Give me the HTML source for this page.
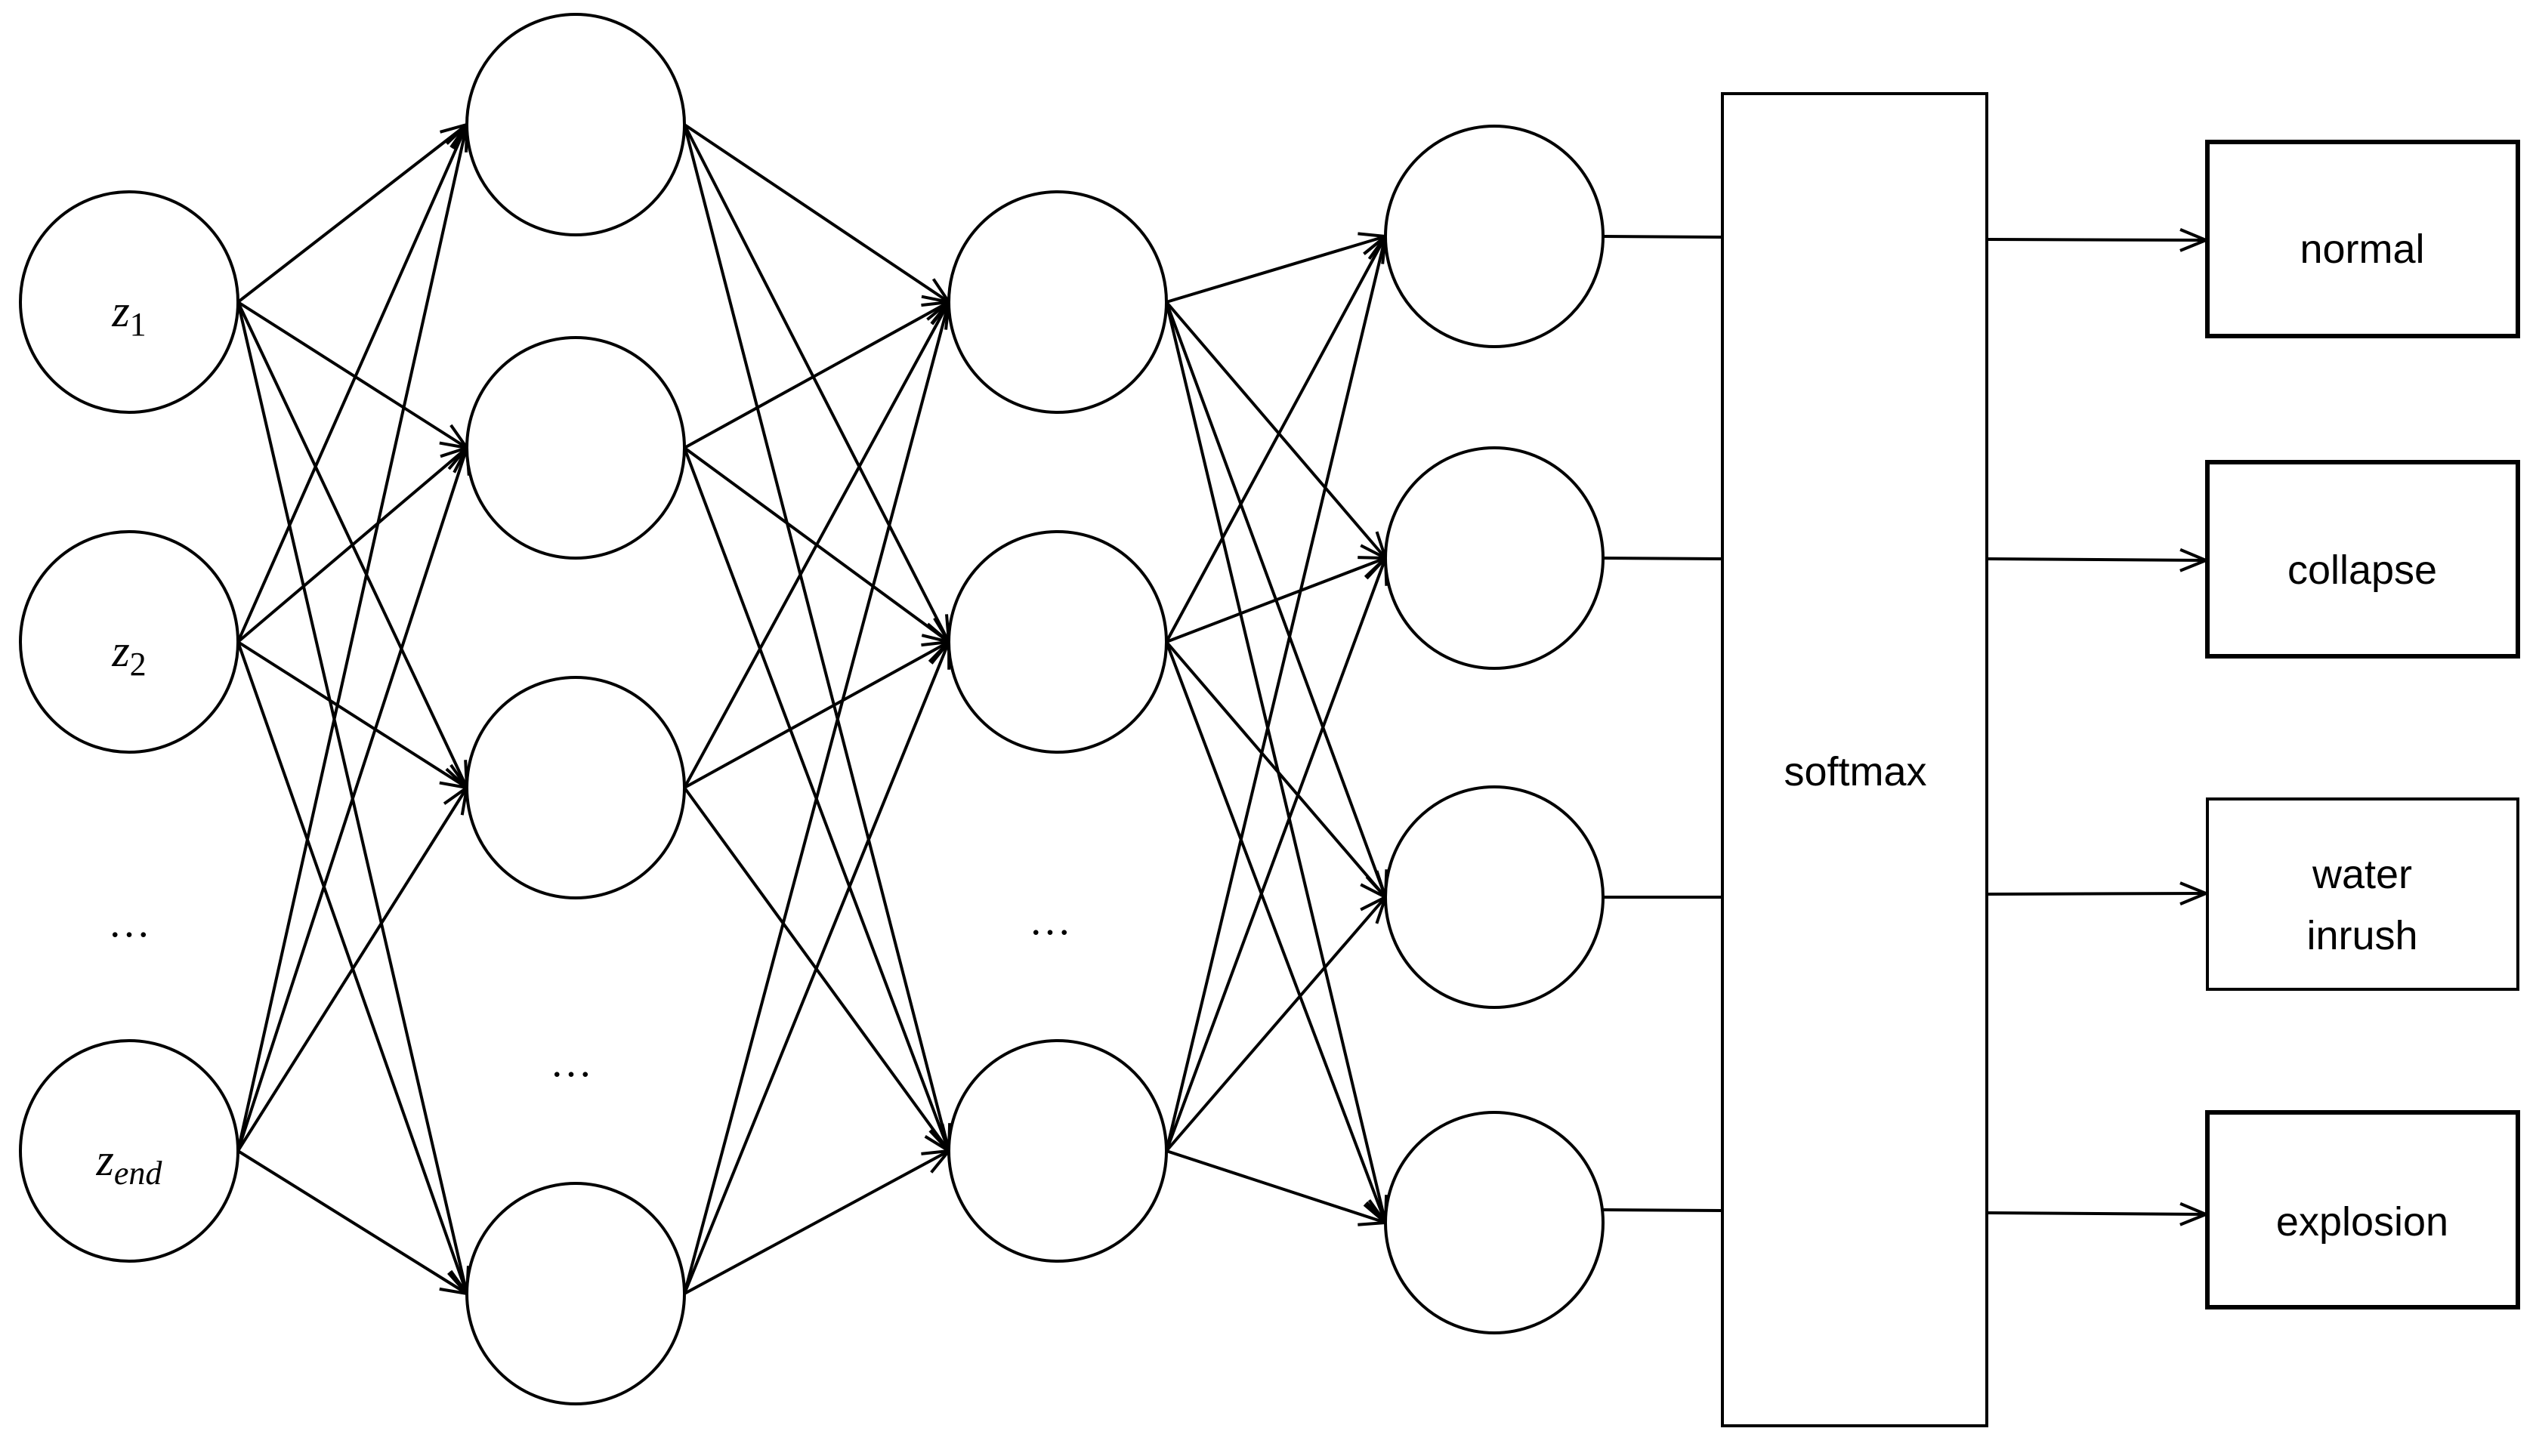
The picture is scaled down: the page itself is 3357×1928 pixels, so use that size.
<!DOCTYPE html>
<html><head><meta charset="utf-8"><style>
html,body{margin:0;padding:0;background:#fff;}
svg{display:block;}
</style></head><body>
<svg width="3357" height="1928" viewBox="0 0 3357 1928" xmlns="http://www.w3.org/2000/svg">
<defs>
<marker id="a" markerUnits="userSpaceOnUse" markerWidth="40" markerHeight="40" refX="36" refY="16" orient="auto">
<path d="M2,2 L36,16 L2,30" fill="none" stroke="#000" stroke-width="4"/>
</marker>
</defs>
<rect width="3357" height="1928" fill="#fff"/>
<g stroke="#000" stroke-width="4" fill="none" marker-end="url(#a)">
<!-- L1 -> L2 -->
<line x1="315" y1="400" x2="618" y2="165"/><line x1="315" y1="400" x2="618" y2="593"/><line x1="315" y1="400" x2="618" y2="1043"/><line x1="315" y1="400" x2="618" y2="1713"/>
<line x1="315" y1="850" x2="618" y2="165"/><line x1="315" y1="850" x2="618" y2="593"/><line x1="315" y1="850" x2="618" y2="1043"/><line x1="315" y1="850" x2="618" y2="1713"/>
<line x1="315" y1="1524" x2="618" y2="165"/><line x1="315" y1="1524" x2="618" y2="593"/><line x1="315" y1="1524" x2="618" y2="1043"/><line x1="315" y1="1524" x2="618" y2="1713"/>
<!-- L2 -> L3 -->
<line x1="906" y1="165" x2="1256" y2="400"/><line x1="906" y1="165" x2="1256" y2="850"/><line x1="906" y1="165" x2="1256" y2="1524"/>
<line x1="906" y1="593" x2="1256" y2="400"/><line x1="906" y1="593" x2="1256" y2="850"/><line x1="906" y1="593" x2="1256" y2="1524"/>
<line x1="906" y1="1043" x2="1256" y2="400"/><line x1="906" y1="1043" x2="1256" y2="850"/><line x1="906" y1="1043" x2="1256" y2="1524"/>
<line x1="906" y1="1713" x2="1256" y2="400"/><line x1="906" y1="1713" x2="1256" y2="850"/><line x1="906" y1="1713" x2="1256" y2="1524"/>
<!-- L3 -> L4 -->
<line x1="1544" y1="400" x2="1834" y2="313"/><line x1="1544" y1="400" x2="1834" y2="739"/><line x1="1544" y1="400" x2="1834" y2="1188"/><line x1="1544" y1="400" x2="1834" y2="1619"/>
<line x1="1544" y1="850" x2="1834" y2="313"/><line x1="1544" y1="850" x2="1834" y2="739"/><line x1="1544" y1="850" x2="1834" y2="1188"/><line x1="1544" y1="850" x2="1834" y2="1619"/>
<line x1="1544" y1="1524" x2="1834" y2="313"/><line x1="1544" y1="1524" x2="1834" y2="739"/><line x1="1544" y1="1524" x2="1834" y2="1188"/><line x1="1544" y1="1524" x2="1834" y2="1619"/>
<!-- softmax -> outputs -->
<line x1="2630" y1="317" x2="2920" y2="318"/>
<line x1="2630" y1="740" x2="2920" y2="742"/>
<line x1="2630" y1="1184" x2="2920" y2="1183"/>
<line x1="2630" y1="1606" x2="2920" y2="1608"/>
</g>
<g stroke="#000" stroke-width="4" fill="none">
<line x1="2122" y1="313" x2="2280" y2="314"/>
<line x1="2122" y1="739" x2="2280" y2="740"/>
<line x1="2122" y1="1188" x2="2280" y2="1188"/>
<line x1="2122" y1="1602" x2="2280" y2="1603"/>
</g>
<g stroke="#000" stroke-width="4" fill="#fff">
<ellipse cx="171" cy="400" rx="144" ry="146"/>
<ellipse cx="171" cy="850" rx="144" ry="146"/>
<ellipse cx="171" cy="1524" rx="144" ry="146"/>
<ellipse cx="762" cy="165" rx="144" ry="146"/>
<ellipse cx="762" cy="593" rx="144" ry="146"/>
<ellipse cx="762" cy="1043" rx="144" ry="146"/>
<ellipse cx="762" cy="1713" rx="144" ry="146"/>
<ellipse cx="1400" cy="400" rx="144" ry="146"/>
<ellipse cx="1400" cy="850" rx="144" ry="146"/>
<ellipse cx="1400" cy="1524" rx="144" ry="146"/>
<ellipse cx="1978" cy="313" rx="144" ry="146"/>
<ellipse cx="1978" cy="739" rx="144" ry="146"/>
<ellipse cx="1978" cy="1188" rx="144" ry="146"/>
<ellipse cx="1978" cy="1619" rx="144" ry="146"/>
<rect x="2280" y="124" width="350" height="1764"/>
<rect x="2922" y="188" width="411" height="257" stroke-width="6"/>
<rect x="2922" y="612" width="411" height="257" stroke-width="6"/>
<rect x="2922" y="1058" width="411" height="252"/>
<rect x="2922" y="1473" width="411" height="258" stroke-width="6"/>
</g>
<g font-family="Liberation Serif, serif" font-style="italic" fill="#000" text-anchor="middle">
<text x="171" y="432" font-size="60">z<tspan font-style="normal" font-size="44" dy="12">1</tspan></text>
<text x="171" y="882" font-size="60">z<tspan font-style="normal" font-size="44" dy="12">2</tspan></text>
<text x="171" y="1556" font-size="60">z<tspan font-size="44" dy="12">end</tspan></text>
</g>
<g font-family="Liberation Serif, serif" font-size="56" fill="#000" text-anchor="middle">
<text x="171" y="1240">…</text>
<text x="756" y="1425">…</text>
<text x="1390" y="1237">…</text>
</g>
<g font-family="Liberation Sans, sans-serif" font-size="54" fill="#000" text-anchor="middle">
<text x="2456" y="1040">softmax</text>
<text x="3127" y="348">normal</text>
<text x="3127" y="773">collapse</text>
<text x="3127" y="1176">water</text>
<text x="3127" y="1257">inrush</text>
<text x="3127" y="1636">explosion</text>
</g>
</svg>
</body></html>
